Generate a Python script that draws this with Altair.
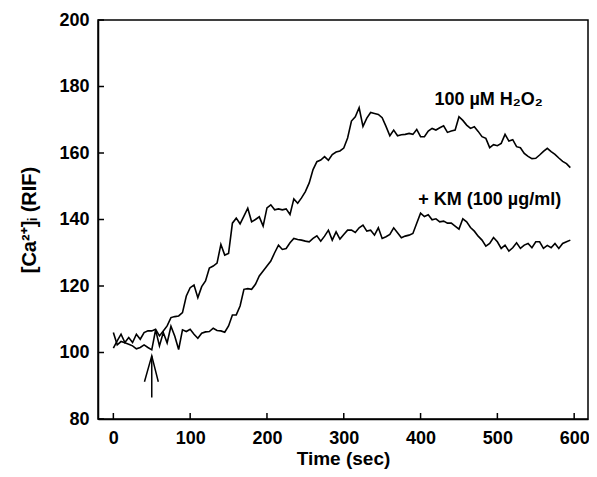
import altair as alt
import pandas as pd

# ---- data ----
time_sec = list(range(0, 600, 5))

h2o2 = [101.3, 103.5, 105.5, 103.0, 104.5, 103.0, 105.5, 104.0, 106.0, 106.5,
        106.5, 107.0, 105.0, 106.5, 108.0, 110.5, 110.8, 111.0, 112.0, 117.0,
        119.5, 120.3, 116.5, 119.8, 121.5, 125.4, 126.0, 126.9, 132.5, 129.3,
        129.8, 138.9, 140.4, 138.7, 141.0, 143.4, 139.3, 140.0, 140.8, 138.0,
        143.5, 144.4, 142.9, 143.2, 142.9, 143.2, 141.5, 146.2, 144.9, 146.5,
        148.4, 151.0, 155.0, 157.4, 157.9, 158.9, 157.8, 159.5, 160.3, 160.6,
        161.5, 164.5, 169.6, 170.9, 173.6, 168.0, 170.5, 172.2, 171.9, 171.6,
        170.6, 168.0, 165.2, 166.9, 165.2, 165.5, 165.6, 165.9, 165.6, 167.1,
        164.9, 164.9, 166.6, 167.4, 166.9, 167.6, 168.2, 166.2, 166.6, 166.9,
        170.9, 169.8, 168.4, 167.4, 167.9, 166.5, 164.9, 164.4, 161.6, 162.5,
        162.2, 162.9, 165.6, 163.6, 164.0, 161.9, 161.6, 159.9, 159.0, 158.3,
        158.4, 159.4, 160.5, 161.4, 160.4, 159.6, 158.5, 157.5, 156.8, 155.6]

km = [106.0, 102.3, 103.3, 102.9, 102.5, 102.0, 101.1, 101.5, 102.3, 101.5,
      100.8, 106.8, 102.0, 106.0, 102.9, 107.9, 104.9, 100.9, 106.8, 106.3,
      107.0, 105.5, 104.3, 105.8, 106.2, 106.3, 107.3, 106.6, 106.5, 106.1,
      108.0, 111.3, 111.3, 114.0, 119.0, 119.2, 119.0, 120.5, 123.0, 124.5,
      126.0, 127.5, 130.0, 132.3, 131.0, 131.3, 133.0, 134.3, 134.0, 133.8,
      133.5, 133.3, 134.3, 135.1, 133.5, 135.0, 136.8, 133.8, 136.3, 134.1,
      135.5, 136.8, 136.8, 136.1, 137.5, 138.3, 136.5, 136.8, 135.3, 137.5,
      134.3, 134.8, 135.5, 137.5, 136.0, 134.5, 135.0, 135.3, 135.8, 138.9,
      141.9, 140.9, 141.4, 139.9, 140.2, 139.3, 139.5, 138.9, 138.9, 138.0,
      137.1, 140.2, 139.3, 137.6, 136.5, 135.0, 133.8, 132.0, 132.8, 134.6,
      133.3, 131.3, 132.3, 130.5, 131.5, 133.0, 131.3, 132.3, 132.8, 131.5,
      133.3, 133.3, 131.3, 132.2, 131.5, 132.8, 131.3, 132.8, 133.3, 133.8]

x_ticks = [0, 100, 200, 300, 400, 500, 600]
y_ticks = [80, 100, 120, 140, 160, 180, 200]

label_texts = ["100 µM H₂O₂", "+ KM (100 µg/ml)"]
label_x = [418, 397]
label_y = [176.0, 145.9]

arrow_part = ["shaft", "shaft", "head", "head", "head"]
arrow_x = [50, 50, 40.5, 50, 58.5]
arrow_y = [86.5, 99.0, 91.2, 99.0, 91.2]

# ---- tables ----
rows = []
for i, t in enumerate(time_sec):
    rows.append({"t": t, "v": h2o2[i], "series": "H2O2"})
    rows.append({"t": t, "v": km[i], "series": "KM"})
df = pd.DataFrame(rows)

arrow_df = pd.DataFrame({"part": arrow_part, "t": arrow_x, "v": arrow_y,
                         "order": list(range(len(arrow_x)))})
label_df = pd.DataFrame({"text": label_texts, "t": label_x, "v": label_y})
xt_df = pd.DataFrame({"t": x_ticks})
yt_df = pd.DataFrame({"v": y_ticks})

FONT = "Liberation Sans"
W, H = 490, 399
xscale = alt.Scale(domain=[-20, 618], nice=False, zero=False)
yscale = alt.Scale(domain=[80, 200], nice=False, zero=False)
x_axis = alt.Axis(values=x_ticks, title="Time (sec)", labelPadding=10,
                  titlePadding=2, titleFontSize=19)
y_axis = alt.Axis(values=y_ticks, title="[Ca²⁺]ᵢ (RIF)", labelPadding=9,
                  titlePadding=19, titleFontSize=20)
X = alt.X("t:Q", scale=xscale, axis=x_axis)
Y = alt.Y("v:Q", scale=yscale, axis=y_axis)

lines = alt.Chart(df).mark_line(color="black", strokeWidth=1.6).encode(
    x=X, y=Y, detail="series:N", order="t:Q",
)

arrow = alt.Chart(arrow_df).mark_line(color="black", strokeWidth=1.5).encode(
    x=X, y=Y, detail="part:N", order="order:Q",
)

xticks = alt.Chart(xt_df).mark_rule(color="black", strokeWidth=1.5).encode(
    x=X, y=alt.value(H), y2=alt.value(H - 6),
)

yticks = alt.Chart(yt_df).mark_rule(color="black", strokeWidth=1.5).encode(
    y=Y, x=alt.value(0), x2=alt.value(6),
)

labels = alt.Chart(label_df).mark_text(
    align="left", baseline="middle", font=FONT, fontWeight="bold",
    fontSize=18, color="black"
).encode(x=X, y=Y, text="text:N")

chart = alt.layer(lines, arrow, xticks, yticks, labels).properties(
    width=W, height=H,
    autosize=alt.AutoSizeParams(type="none"),
    padding={"left": 90, "top": 12, "right": 1, "bottom": 50},
    background="white",
).configure_view(
    stroke="black", strokeWidth=1.5
).configure_axis(
    grid=False, domainColor="black", domainWidth=1.5, tickSize=0,
    labelFont=FONT, labelFontWeight="bold", labelFontSize=18, labelColor="black",
    titleFont=FONT, titleFontWeight="bold", titleColor="black",
)

chart.save("out.html", embed_options={"renderer": "svg", "actions": False})
